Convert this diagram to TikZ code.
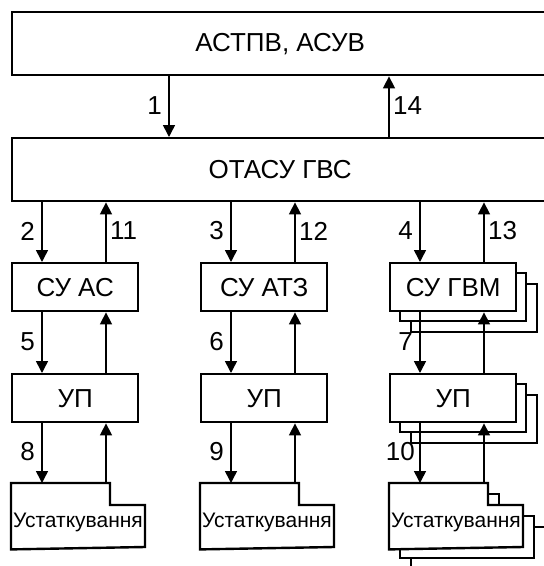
\documentclass[tikz,border=0pt]{standalone}
\usepackage{fontspec}
\setmainfont{Liberation Sans}
\usetikzlibrary{arrows.meta}
\begin{document}
\begin{tikzpicture}[x=1pt,y=-1pt,
  box/.style={draw,line width=2.4pt,fill=white,inner sep=0pt,anchor=north west,
    font=\fontsize{26}{30}\selectfont},
  smallbox/.style={box,minimum width=126pt,minimum height=48pt},
  boxline/.style={draw,line width=2.4pt,fill=white,line join=miter},
  docarea/.style={inner sep=0pt,outer sep=1.2pt,anchor=north west,minimum width=134pt,minimum height=64pt},
  doctext/.style={inner sep=0pt,anchor=base,font=\fontsize{21}{24}\selectfont},
  arr/.style={line width=1.6pt,-{Triangle[length=12pt,width=12pt]}},
  numl/.style={inner sep=0pt,anchor=east,font=\fontsize{26}{30}\selectfont},
  numr/.style={inner sep=0pt,anchor=west,font=\fontsize{26}{30}\selectfont}
]
\useasboundingbox (0,0) rectangle (544,566);
\clip (0,0) rectangle (544,566);

% x positions of the connectors
\coordinate (xa) at (169,0);  \coordinate (xb) at (389,0);
\coordinate (d1) at (42,0);   \coordinate (u1) at (106,0);
\coordinate (d2) at (231,0);  \coordinate (u2) at (295,0);
\coordinate (d3) at (420,0);  \coordinate (u3) at (484,0);

% top boxes
\node[box,minimum width=536pt,minimum height=63pt] (top) at (11,11) {АСТПВ, АСУВ};
\node[box,minimum width=536pt,minimum height=63pt] (otasu) at (11,137) {ОТАСУ ГВС};

% shadows of the third column
\foreach \d in {22,11} {
  \draw[boxline] (389+\d,262+\d) rectangle ++(126,48);
  \draw[boxline] (389+\d,373+\d) rectangle ++(126,48);
  \draw[boxline] (389+\d,483+\d) -- ++(99,0) -- ++(0,22) -- ++(35,0) -- ++(0,42) -- ++(-134,0) -- cycle;
}

% control boxes
\node[smallbox] (su1) at (11,262) {СУ АС};
\node[smallbox] (su2) at (200,262) {СУ АТЗ};
\node[smallbox] (su3) at (389,262) {СУ ГВМ};
\node[smallbox] (up1) at (11,373) {УП};
\node[smallbox] (up2) at (200,373) {УП};
\node[smallbox] (up3) at (389,373) {УП};

% equipment shapes
\node[docarea] (doc1) at (11,483) {};
\node[docarea] (doc2) at (200,483) {};
\node[docarea] (doc3) at (389,483) {};
\foreach \n in {doc1,doc2,doc3} {
  \draw[boxline] (\n.north west) -- ++(99,0) -- ++(0,22) -- ++(35,0) -- ++(0,42) -- (\n.south west) -- cycle;
}
\node[doctext] (e1) at (78,527) {Устаткування};
\node[doctext] (e2) at (267,527) {Устаткування};
\node[doctext] (e3) at (456,527) {Устаткування};

% connectors
\draw[arr] (top.south -| xa) -- (otasu.north -| xa);
\draw[arr] (otasu.north -| xb) -- (top.south -| xb);

\draw[arr] (otasu.south -| d1) -- (su1.north -| d1);
\draw[arr] (su1.north -| u1) -- (otasu.south -| u1);
\draw[arr] (otasu.south -| d2) -- (su2.north -| d2);
\draw[arr] (su2.north -| u2) -- (otasu.south -| u2);
\draw[arr] (otasu.south -| d3) -- (su3.north -| d3);
\draw[arr] (su3.north -| u3) -- (otasu.south -| u3);

\draw[arr] (su1.south -| d1) -- (up1.north -| d1);
\draw[arr] (up1.north -| u1) -- (su1.south -| u1);
\draw[arr] (su2.south -| d2) -- (up2.north -| d2);
\draw[arr] (up2.north -| u2) -- (su2.south -| u2);
\draw[arr] (su3.south -| d3) -- (up3.north -| d3);
\draw[arr] (up3.north -| u3) -- (su3.south -| u3);

\draw[arr] (up1.south -| d1) -- (doc1.north -| d1);
\draw[arr] (doc1.north -| u1) -- (up1.south -| u1);
\draw[arr] (up2.south -| d2) -- (doc2.north -| d2);
\draw[arr] (doc2.north -| u2) -- (up2.south -| u2);
\draw[arr] (up3.south -| d3) -- (doc3.north -| d3);
\draw[arr] (doc3.north -| u3) -- (up3.south -| u3);

% labels
\node[numl] (l1) at (162,106) {1};
\node[numr] (l14) at (393,106) {14};
\node[numl] (l2) at (35,231) {2};
\node[numr] (l11) at (110,231) {11};
\node[numl] (l3) at (224,231) {3};
\node[numr] (l12) at (299,231) {12};
\node[numl] (l4) at (413,231) {4};
\node[numr] (l13) at (488,231) {13};
\node[numl] (l5) at (35,342) {5};
\node[numl] (l6) at (224,342) {6};
\node[numl] (l7) at (413,342) {7};
\node[numl] (l8) at (35,452) {8};
\node[numl] (l9) at (224,452) {9};
\node[numl] (l10) at (415,452) {10};
\end{tikzpicture}
\end{document}
